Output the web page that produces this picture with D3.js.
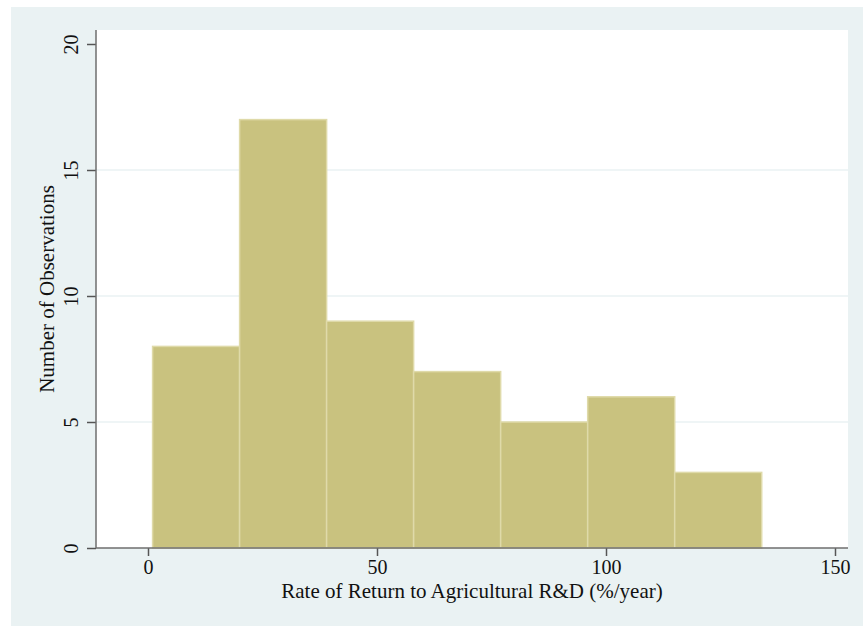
<!DOCTYPE html>
<html>
<head>
<meta charset="utf-8">
<script src="https://cdn.jsdelivr.net/npm/d3@7"></script>
<style>
  html, body { margin: 0; padding: 0; background: #ffffff; }
  svg { display: block; }
  text { font-family: "Liberation Serif", "Times New Roman", serif; fill: #111; }
</style>
</head>
<body>
<svg id="chart" width="863" height="626"></svg>
<script>
// histogram bins: start edge and width (%/year), counts per bin
const binStart = 1;
const binWidth = 19;
const counts = [8, 17, 9, 7, 5, 6, 3];
const xTicks = [0, 50, 100, 150];
const yTicks = [0, 5, 10, 15, 20];
const gridTicks = [5, 10, 15];

const W = 863, H = 626;
const margin = { top: 30, right: 15, bottom: 78, left: 96 };

const svg = d3.select("#chart");

// outer graph region
svg.append("rect")
    .attr("x", 11).attr("y", 7)
    .attr("width", W - 11).attr("height", H - 7)
    .attr("fill", "#eaf2f3");

// plot region
svg.append("rect")
    .attr("x", margin.left).attr("y", margin.top)
    .attr("width", W - margin.right - margin.left)
    .attr("height", H - margin.bottom - margin.top)
    .attr("fill", "#ffffff");

let bins = counts.map((c, i) => ({ x0: binStart + i * binWidth, x1: binStart + (i + 1) * binWidth, n: c }));

// scales
let xScale = d3.scaleLinear().domain([0, 150]).range([148, 835]);
let yScale = d3.scaleLinear().domain([0, 20]).range([548, 44]);

// gridlines
svg.append("g").selectAll("line")
    .data(gridTicks)
    .enter()
    .append("line")
    .attr("x1", margin.left).attr("x2", W - margin.right)
    .attr("y1", d => yScale(d)).attr("y2", d => yScale(d))
    .attr("stroke", "#eaf2f3")
    .attr("stroke-width", 1.5);

// bars
svg.append("g").selectAll("rect")
    .data(bins)
    .enter()
    .append("rect")
    .attr("x", d => xScale(d.x0))
    .attr("y", d => yScale(d.n))
    .attr("width", d => xScale(d.x1) - xScale(d.x0))
    .attr("height", d => yScale(0) - yScale(d.n))
    .attr("fill", "#c9c27f")
    .attr("stroke", "#dfdaa9")
    .attr("stroke-width", 1.5);

// axes
let xAxis = d3.axisBottom(xScale).tickValues(xTicks).tickSize(8).tickPadding(4).tickSizeOuter(0);
let yAxis = d3.axisLeft(yScale).tickValues(yTicks).tickSize(9).tickPadding(0).tickSizeOuter(0);

let xAxisGroup = svg.append("g")
    .attr("transform", `translate(0, ${yScale(0)})`)
    .call(xAxis);
xAxisGroup.select(".domain").remove();
xAxisGroup.append("line")
    .attr("x1", margin.left).attr("x2", W - margin.right)
    .attr("y1", 0).attr("y2", 0)
    .attr("stroke", "#6e6e6e").attr("stroke-width", 1.5);
xAxisGroup.selectAll(".tick line").attr("stroke", "#555").attr("stroke-width", 1.5);
xAxisGroup.selectAll(".tick text")
    .style("font-size", "20px")
    .style("font-family", "Liberation Serif, serif")
    .attr("fill", "#111");

let yAxisGroup = svg.append("g")
    .attr("transform", `translate(${margin.left}, 0)`)
    .call(yAxis);
yAxisGroup.select(".domain").remove();
yAxisGroup.append("line")
    .attr("x1", 0).attr("x2", 0)
    .attr("y1", margin.top).attr("y2", yScale(0))
    .attr("stroke", "#6e6e6e").attr("stroke-width", 1.5);
yAxisGroup.selectAll(".tick line").attr("stroke", "#555").attr("stroke-width", 1.5);
yAxisGroup.selectAll(".tick text")
    .attr("x", null).attr("dy", null)
    .attr("transform", "translate(-18, 0) rotate(-90)")
    .attr("text-anchor", "middle")
    .style("font-size", "20px")
    .style("font-family", "Liberation Serif, serif")
    .attr("fill", "#111");

// axis titles
svg.append("text")
    .attr("x", 472)
    .attr("y", 598)
    .attr("text-anchor", "middle")
    .style("font-size", "21px")
    .text("Rate of Return to Agricultural R&D (%/year)");

svg.append("text")
    .attr("transform", `translate(54, ${(margin.top + yScale(0)) / 2}) rotate(-90)`)
    .attr("text-anchor", "middle")
    .style("font-size", "21px")
    .text("Number of Observations");
</script>
</body>
</html>
